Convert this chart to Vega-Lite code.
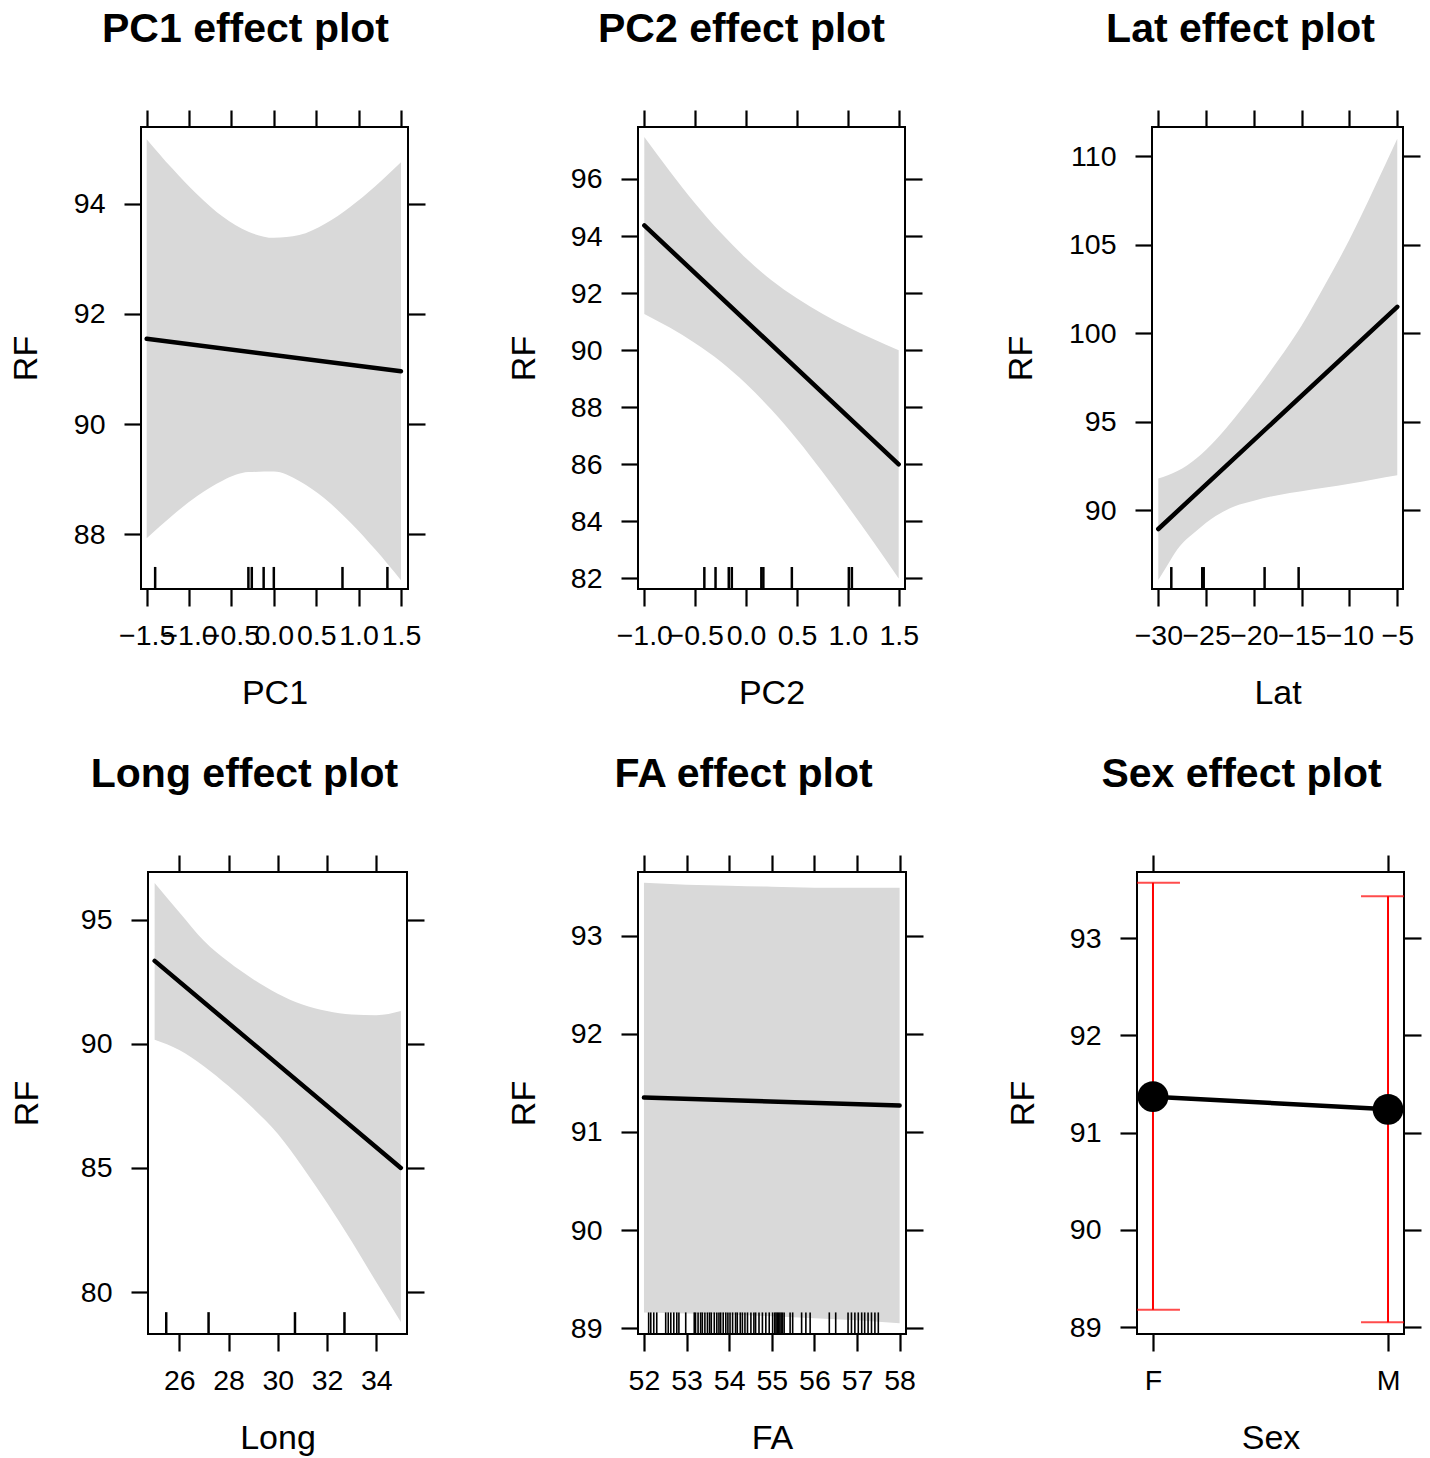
{
  "$schema": "https://vega.github.io/schema/vega-lite/v6.json",
  "background": "white",
  "padding": {"left": -71, "top": 7, "right": 0, "bottom": 0},
  "datasets": {
    "pc1_band": [
      {"x": -1.5, "lo": 87.93, "hi": 95.17},
      {"x": -1.2, "lo": 88.34, "hi": 94.64},
      {"x": -0.9, "lo": 88.70, "hi": 94.16},
      {"x": -0.6, "lo": 88.98, "hi": 93.76},
      {"x": -0.3, "lo": 89.13, "hi": 93.49},
      {"x": 0.0, "lo": 89.14, "hi": 93.38},
      {"x": 0.3, "lo": 88.97, "hi": 93.43},
      {"x": 0.6, "lo": 88.65, "hi": 93.63},
      {"x": 0.9, "lo": 88.22, "hi": 93.94},
      {"x": 1.2, "lo": 87.72, "hi": 94.32},
      {"x": 1.5, "lo": 87.17, "hi": 94.75}
    ],
    "pc1_line": [{"x": -1.5, "y": 91.55}, {"x": 1.5, "y": 90.96}],
    "pc1_rug": [{"x": -1.40}, {"x": -0.30}, {"x": -0.26}, {"x": -0.12}, {"x": 0.0}, {"x": 0.81}, {"x": 1.34}],
    "pc2_band": [
      {"x": -1.0, "lo": 91.27, "hi": 97.47},
      {"x": -0.75, "lo": 90.79, "hi": 96.27},
      {"x": -0.5, "lo": 90.24, "hi": 95.14},
      {"x": -0.25, "lo": 89.60, "hi": 94.12},
      {"x": 0.0, "lo": 88.82, "hi": 93.22},
      {"x": 0.25, "lo": 87.91, "hi": 92.45},
      {"x": 0.5, "lo": 86.88, "hi": 91.82},
      {"x": 0.75, "lo": 85.74, "hi": 91.28},
      {"x": 1.0, "lo": 84.53, "hi": 90.81},
      {"x": 1.25, "lo": 83.29, "hi": 90.39},
      {"x": 1.5, "lo": 82.0, "hi": 90.0}
    ],
    "pc2_line": [{"x": -1.0, "y": 94.37}, {"x": 1.5, "y": 86.0}],
    "pc2_rug": [{"x": -0.41}, {"x": -0.30}, {"x": -0.17}, {"x": -0.14}, {"x": 0.15}, {"x": 0.17}, {"x": 0.45}, {"x": 1.01}, {"x": 1.04}],
    "lat_band": [
      {"x": -30, "lo": 86.07, "hi": 91.8},
      {"x": -29, "lo": 86.95, "hi": 91.98},
      {"x": -28, "lo": 87.8, "hi": 92.22},
      {"x": -26, "lo": 88.85, "hi": 92.95},
      {"x": -24, "lo": 89.68, "hi": 93.98},
      {"x": -22, "lo": 90.24, "hi": 95.23},
      {"x": -20, "lo": 90.55, "hi": 96.6},
      {"x": -17.5, "lo": 90.86, "hi": 98.45},
      {"x": -15, "lo": 91.08, "hi": 100.45},
      {"x": -12.5, "lo": 91.29, "hi": 102.8},
      {"x": -10, "lo": 91.5, "hi": 105.3},
      {"x": -7.5, "lo": 91.75, "hi": 108.1},
      {"x": -5, "lo": 91.98, "hi": 111.0}
    ],
    "lat_line": [{"x": -30, "y": 88.95}, {"x": -5, "y": 101.5}],
    "lat_rug": [{"x": -28.64}, {"x": -25.4}, {"x": -25.25}, {"x": -18.88}, {"x": -15.32}],
    "long_band": [
      {"x": 25, "lo": 90.16, "hi": 96.48},
      {"x": 26, "lo": 89.75, "hi": 95.3},
      {"x": 27, "lo": 89.1, "hi": 94.15},
      {"x": 28, "lo": 88.3, "hi": 93.3},
      {"x": 29, "lo": 87.4, "hi": 92.6},
      {"x": 30, "lo": 86.38, "hi": 92.02},
      {"x": 31, "lo": 85.05, "hi": 91.58},
      {"x": 32, "lo": 83.6, "hi": 91.32},
      {"x": 33, "lo": 82.05, "hi": 91.18},
      {"x": 34, "lo": 80.4, "hi": 91.15},
      {"x": 35, "lo": 78.79, "hi": 91.32}
    ],
    "long_line": [{"x": 25, "y": 93.34}, {"x": 35, "y": 85.0}],
    "long_rug": [{"x": 25.47}, {"x": 27.19}, {"x": 30.70}, {"x": 32.71}],
    "fa_band": [
      {"x": 52, "lo": 89.16, "hi": 93.54},
      {"x": 53, "lo": 89.15, "hi": 93.52},
      {"x": 54, "lo": 89.14, "hi": 93.51},
      {"x": 55, "lo": 89.12, "hi": 93.50},
      {"x": 56, "lo": 89.10, "hi": 93.49},
      {"x": 57, "lo": 89.08, "hi": 93.49},
      {"x": 58, "lo": 89.05, "hi": 93.49}
    ],
    "fa_line": [{"x": 52, "y": 91.35}, {"x": 58, "y": 91.27}],
    "fa_rug": [
      {"x": 52.11}, {"x": 52.16}, {"x": 52.23}, {"x": 52.30}, {"x": 52.51}, {"x": 52.57}, {"x": 52.63}, {"x": 52.70},
      {"x": 52.77}, {"x": 52.82}, {"x": 52.98}, {"x": 53.18}, {"x": 53.21}, {"x": 53.27}, {"x": 53.33}, {"x": 53.37},
      {"x": 53.43}, {"x": 53.49}, {"x": 53.54}, {"x": 53.58}, {"x": 53.65}, {"x": 53.71}, {"x": 53.76}, {"x": 53.80},
      {"x": 53.86}, {"x": 53.92}, {"x": 53.97}, {"x": 54.02}, {"x": 54.08}, {"x": 54.15}, {"x": 54.19}, {"x": 54.26},
      {"x": 54.31}, {"x": 54.37}, {"x": 54.43}, {"x": 54.51}, {"x": 54.58}, {"x": 54.62}, {"x": 54.70}, {"x": 54.78},
      {"x": 54.86}, {"x": 54.94}, {"x": 55.02}, {"x": 55.07}, {"x": 55.10}, {"x": 55.13}, {"x": 55.16}, {"x": 55.19},
      {"x": 55.22}, {"x": 55.25}, {"x": 55.29}, {"x": 55.43}, {"x": 55.49}, {"x": 55.70}, {"x": 55.80}, {"x": 55.90},
      {"x": 56.35}, {"x": 56.50}, {"x": 56.79}, {"x": 56.87}, {"x": 56.95}, {"x": 57.03}, {"x": 57.11}, {"x": 57.18},
      {"x": 57.26}, {"x": 57.34}, {"x": 57.42}, {"x": 57.50}
    ],
    "sex": [
      {"Sex": "F", "fit": 91.37, "lo": 89.18, "hi": 93.57},
      {"Sex": "M", "fit": 91.24, "lo": 89.05, "hi": 93.43}
    ]
  },
  "spacing": 40,
  "vconcat": [
    {
      "spacing": 78,
      "hconcat": [
        {"width": 1, "height": 1, "view": {"stroke": null}, "data": {"values": []}, "mark": "point"},
        {
          "title": {"text": "PC1 effect plot", "dx": -29},
          "width": 267, "height": 462,
          "layer": [
            {
              "data": {"name": "pc1_band"},
              "mark": {"type": "area", "color": "#d9d9d9", "interpolate": "monotone"},
              "encoding": {
                "x": {"field": "x", "type": "quantitative", "scale": {"domain": [-1.567, 1.583], "nice": false, "zero": false},
                      "axis": {"orient": "bottom", "values": [-1.5, -1, -0.5, 0, 0.5, 1, 1.5], "format": ".1f", "title": "PC1"}},
                "y": {"field": "lo", "type": "quantitative", "scale": {"domain": [87.01, 95.39], "nice": false, "zero": false},
                      "axis": {"orient": "left", "values": [88, 90, 92, 94], "title": "RF", "titlePadding": 30}},
                "y2": {"field": "hi"}
              }
            },
            {
              "data": {"name": "pc1_line"},
              "mark": {"type": "line", "color": "black", "strokeWidth": 4.5, "strokeCap": "round"},
              "encoding": {
                "x": {"field": "x", "type": "quantitative", "axis": {"orient": "top", "values": [-1.5, -1, -0.5, 0, 0.5, 1, 1.5], "labels": false, "title": null}},
                "y": {"field": "y", "type": "quantitative", "axis": {"orient": "right", "values": [88, 90, 92, 94], "labels": false, "title": null}}
              }
            },
            {
              "data": {"name": "pc1_rug"},
              "mark": {"type": "rule", "color": "black", "strokeWidth": 2.5},
              "encoding": {
                "x": {"field": "x", "type": "quantitative", "axis": null},
                "y": {"datum": 87.01, "type": "quantitative", "axis": null},
                "y2": {"datum": 87.41}
              }
            }
          ],
          "resolve": {"axis": {"x": "independent", "y": "independent"}}
        },
        {
          "title": {"text": "PC2 effect plot", "dx": -30},
          "width": 267, "height": 462,
          "layer": [
            {
              "data": {"name": "pc2_band"},
              "mark": {"type": "area", "color": "#d9d9d9", "interpolate": "monotone"},
              "encoding": {
                "x": {"field": "x", "type": "quantitative", "scale": {"domain": [-1.062, 1.562], "nice": false, "zero": false},
                      "axis": {"orient": "bottom", "values": [-1, -0.5, 0, 0.5, 1, 1.5], "format": ".1f", "title": "PC2"}},
                "y": {"field": "lo", "type": "quantitative", "scale": {"domain": [81.63, 97.82], "nice": false, "zero": false},
                      "axis": {"orient": "left", "values": [82, 84, 86, 88, 90, 92, 94, 96], "title": "RF"}},
                "y2": {"field": "hi"}
              }
            },
            {
              "data": {"name": "pc2_line"},
              "mark": {"type": "line", "color": "black", "strokeWidth": 4.5, "strokeCap": "round"},
              "encoding": {
                "x": {"field": "x", "type": "quantitative", "axis": {"orient": "top", "values": [-1, -0.5, 0, 0.5, 1, 1.5], "labels": false, "title": null}},
                "y": {"field": "y", "type": "quantitative", "axis": {"orient": "right", "values": [82, 84, 86, 88, 90, 92, 94, 96], "labels": false, "title": null}}
              }
            },
            {
              "data": {"name": "pc2_rug"},
              "mark": {"type": "rule", "color": "black", "strokeWidth": 2.5},
              "encoding": {
                "x": {"field": "x", "type": "quantitative", "axis": null},
                "y": {"datum": 81.63, "type": "quantitative", "axis": null},
                "y2": {"datum": 82.40}
              }
            }
          ],
          "resolve": {"axis": {"x": "independent", "y": "independent"}}
        },
        {
          "title": {"text": "Lat effect plot", "dx": -37},
          "width": 251, "height": 462,
          "layer": [
            {
              "data": {"name": "lat_band"},
              "mark": {"type": "area", "color": "#d9d9d9", "interpolate": "monotone"},
              "encoding": {
                "x": {"field": "x", "type": "quantitative", "scale": {"domain": [-30.66, -4.40], "nice": false, "zero": false},
                      "axis": {"orient": "bottom", "values": [-30, -25, -20, -15, -10, -5], "format": "d", "title": "Lat"}},
                "y": {"field": "lo", "type": "quantitative", "scale": {"domain": [85.56, 111.66], "nice": false, "zero": false},
                      "axis": {"orient": "left", "values": [90, 95, 100, 105, 110], "title": "RF", "titlePadding": 30.2}},
                "y2": {"field": "hi"}
              }
            },
            {
              "data": {"name": "lat_line"},
              "mark": {"type": "line", "color": "black", "strokeWidth": 4.5, "strokeCap": "round"},
              "encoding": {
                "x": {"field": "x", "type": "quantitative", "axis": {"orient": "top", "values": [-30, -25, -20, -15, -10, -5], "labels": false, "title": null}},
                "y": {"field": "y", "type": "quantitative", "axis": {"orient": "right", "values": [90, 95, 100, 105, 110], "labels": false, "title": null}}
              }
            },
            {
              "data": {"name": "lat_rug"},
              "mark": {"type": "rule", "color": "black", "strokeWidth": 2.5},
              "encoding": {
                "x": {"field": "x", "type": "quantitative", "axis": null},
                "y": {"datum": 85.56, "type": "quantitative", "axis": null},
                "y2": {"datum": 86.80}
              }
            }
          ],
          "resolve": {"axis": {"x": "independent", "y": "independent"}}
        }
      ]
    },
    {
      "spacing": 79,
      "hconcat": [
        {"width": 1, "height": 1, "view": {"stroke": null}, "data": {"values": []}, "mark": "point"},
        {
          "title": {"text": "Long effect plot", "dx": -33},
          "width": 259, "height": 462,
          "layer": [
            {
              "data": {"name": "long_band"},
              "mark": {"type": "area", "color": "#d9d9d9", "interpolate": "monotone"},
              "encoding": {
                "x": {"field": "x", "type": "quantitative", "scale": {"domain": [24.73, 35.25], "nice": false, "zero": false},
                      "axis": {"orient": "bottom", "values": [26, 28, 30, 32, 34], "format": "d", "title": "Long"}},
                "y": {"field": "lo", "type": "quantitative", "scale": {"domain": [78.31, 96.92], "nice": false, "zero": false},
                      "axis": {"orient": "left", "values": [80, 85, 90, 95], "title": "RF", "titlePadding": 35.8}},
                "y2": {"field": "hi"}
              }
            },
            {
              "data": {"name": "long_line"},
              "mark": {"type": "line", "color": "black", "strokeWidth": 4.5, "strokeCap": "round"},
              "encoding": {
                "x": {"field": "x", "type": "quantitative", "axis": {"orient": "top", "values": [26, 28, 30, 32, 34], "labels": false, "title": null}},
                "y": {"field": "y", "type": "quantitative", "axis": {"orient": "right", "values": [80, 85, 90, 95], "labels": false, "title": null}}
              }
            },
            {
              "data": {"name": "long_rug"},
              "mark": {"type": "rule", "color": "black", "strokeWidth": 2.5},
              "encoding": {
                "x": {"field": "x", "type": "quantitative", "axis": null},
                "y": {"datum": 78.31, "type": "quantitative", "axis": null},
                "y2": {"datum": 79.19}
              }
            }
          ],
          "resolve": {"axis": {"x": "independent", "y": "independent"}}
        },
        {
          "title": {"text": "FA effect plot", "dx": -28.5},
          "width": 268, "height": 462,
          "layer": [
            {
              "data": {"name": "fa_band"},
              "mark": {"type": "area", "color": "#d9d9d9", "interpolate": "monotone"},
              "encoding": {
                "x": {"field": "x", "type": "quantitative", "scale": {"domain": [51.86, 58.15], "nice": false, "zero": false},
                      "axis": {"orient": "bottom", "values": [52, 53, 54, 55, 56, 57, 58], "format": "d", "title": "FA"}},
                "y": {"field": "lo", "type": "quantitative", "scale": {"domain": [88.94, 93.65], "nice": false, "zero": false},
                      "axis": {"orient": "left", "values": [89, 90, 91, 92, 93], "title": "RF"}},
                "y2": {"field": "hi"}
              }
            },
            {
              "data": {"name": "fa_line"},
              "mark": {"type": "line", "color": "black", "strokeWidth": 4.5, "strokeCap": "round"},
              "encoding": {
                "x": {"field": "x", "type": "quantitative", "axis": {"orient": "top", "values": [52, 53, 54, 55, 56, 57, 58], "labels": false, "title": null}},
                "y": {"field": "y", "type": "quantitative", "axis": {"orient": "right", "values": [89, 90, 91, 92, 93], "labels": false, "title": null}}
              }
            },
            {
              "data": {"name": "fa_rug"},
              "mark": {"type": "rule", "color": "black", "strokeWidth": 1.6},
              "encoding": {
                "x": {"field": "x", "type": "quantitative", "axis": null},
                "y": {"datum": 88.94, "type": "quantitative", "axis": null},
                "y2": {"datum": 89.16}
              }
            }
          ],
          "resolve": {"axis": {"x": "independent", "y": "independent"}}
        },
        {
          "title": {"text": "Sex effect plot", "dx": -29},
          "width": 267, "height": 462,
          "data": {"name": "sex"},
          "layer": [
            {
              "mark": {"type": "rule", "color": "#ff0000", "strokeWidth": 2},
              "encoding": {
                "x": {"field": "Sex", "type": "nominal", "scale": {"type": "point", "padding": 0.068},
                      "axis": {"orient": "bottom", "labelAngle": 0, "title": "Sex"}},
                "y": {"field": "lo", "type": "quantitative", "scale": {"domain": [88.93, 93.68], "nice": false, "zero": false},
                      "axis": {"orient": "left", "values": [89, 90, 91, 92, 93], "title": "RF"}},
                "y2": {"field": "hi"}
              }
            },
            {
              "mark": {"type": "tick", "color": "#ff0000", "size": 54, "thickness": 2, "clip": true},
              "encoding": {
                "x": {"field": "Sex", "type": "nominal", "axis": null},
                "y": {"field": "lo", "type": "quantitative", "axis": null}
              }
            },
            {
              "mark": {"type": "tick", "color": "#ff0000", "size": 54, "thickness": 2, "clip": true},
              "encoding": {
                "x": {"field": "Sex", "type": "nominal", "axis": null},
                "y": {"field": "hi", "type": "quantitative", "axis": null}
              }
            },
            {
              "mark": {"type": "line", "color": "black", "strokeWidth": 4.5, "strokeCap": "round"},
              "encoding": {
                "x": {"field": "Sex", "type": "nominal", "axis": {"orient": "top", "labels": false, "title": null}},
                "y": {"field": "fit", "type": "quantitative", "axis": {"orient": "right", "values": [89, 90, 91, 92, 93], "labels": false, "title": null}}
              }
            },
            {
              "mark": {"type": "circle", "color": "black", "size": 950, "opacity": 1},
              "encoding": {
                "x": {"field": "Sex", "type": "nominal", "axis": null},
                "y": {"field": "fit", "type": "quantitative", "axis": null}
              }
            }
          ],
          "resolve": {"axis": {"x": "independent", "y": "independent"}}
        }
      ]
    }
  ],
  "config": {
    "font": "Liberation Sans",
    "view": {"stroke": "black", "strokeWidth": 2},
    "axis": {
      "domain": false, "grid": false, "tickColor": "black", "tickSize": 17, "tickWidth": 2.2,
      "labelFontSize": 28.5, "labelColor": "black", "labelOverlap": false, "labelFlush": false, "labelBound": false,
      "titleFontSize": 34, "titleFontWeight": "normal", "titleColor": "black"
    },
    "axisX": {"labelPadding": 15, "titlePadding": 27},
    "axisY": {"labelPadding": 19, "titlePadding": 29},
    "title": {"fontSize": 41, "fontWeight": "bold", "color": "black", "anchor": "middle", "frame": "group", "baseline": "alphabetic", "offset": 58}
  }
}
